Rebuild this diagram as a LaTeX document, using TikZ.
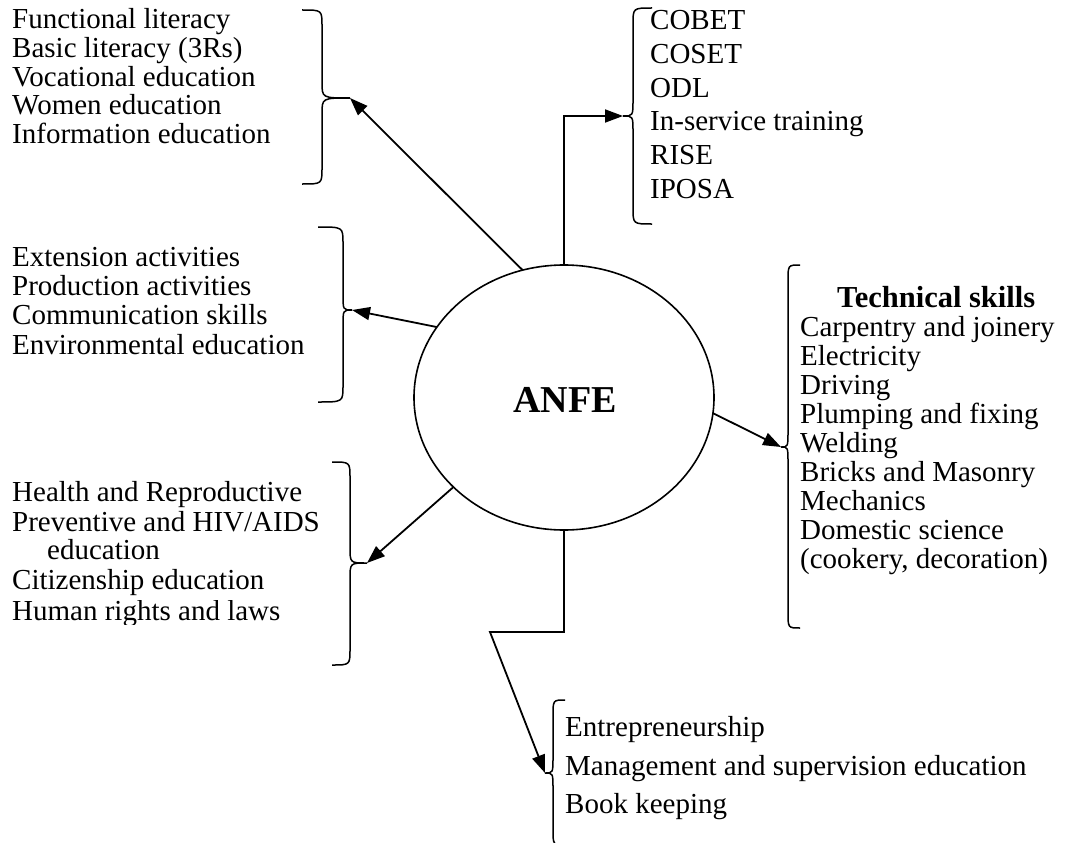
\documentclass[tikz,border=0pt]{standalone}
\usepackage{fontspec}
\setmainfont{Liberation Serif}
\usetikzlibrary{arrows.meta,shapes.geometric}
\newcommand\mybrace[7]{% x0 x1 x2 ytop ycusp ybot r
  \draw[bracepath] (#1,#4) .. controls (#2,#4) .. (#2,#4+#7) -- (#2,#5-#7)
    .. controls (#2,#5) .. (#3,#5) .. controls (#2,#5) .. (#2,#5+#7)
    -- (#2,#6-#7) .. controls (#2,#6) .. (#1,#6);}
\tikzset{
  bracepath/.style={line width=1.5pt},
  arr/.style={line width=1.8pt,-{Triangle[length=18pt,width=13pt]}},
  item/.style={anchor=base west,inner sep=0pt,font=\fontsize{29}{30}\selectfont},
  bolditem/.style={item,font=\fontsize{30.5}{30}\selectfont\bfseries},
}
\begin{document}
\begin{tikzpicture}[x=1pt,y=-1pt]
\useasboundingbox (0,0) rectangle (1066,843);
% centre
\node[ellipse,draw,line width=1.6pt,minimum width=300pt,minimum height=265pt,outer sep=0pt,inner sep=0pt] (anfe) at (564,397.5) {};
\node[inner sep=0pt,font=\fontsize{38}{38}\selectfont\bfseries] (anfelabel) at (565,400) {ANFE};

% top-left list
\node[item] (tl1) at (12,29) {Functional literacy};
\node[item] (tl2) at (12,57.5) {Basic literacy (3Rs)};
\node[item] (tl3) at (12,86) {Vocational education};
\node[item] (tl4) at (12,114.5) {Women education};
\node[item] (tl5) at (12,143) {Information education};
\mybrace{302}{322}{350}{10}{98}{184}{16}
\coordinate (ctl) at (350,98);

% middle-left list
\node[item] (ml1) at (12,266) {Extension activities};
\node[item] (ml2) at (12,295) {Production activities};
\node[item] (ml3) at (12,324.5) {Communication skills};
\node[item] (ml4) at (12,354) {Environmental education};
\mybrace{318}{343}{352}{227}{310}{402}{16}
\coordinate (cml) at (352,310);

% bottom-left list
\node[item] (bl1) at (12,501) {Health and Reproductive};
\node[item] (bl2) at (12,531) {Preventive and HIV/AIDS};
\node[item] (bl3) at (47,559.5) {education};
\node[item] (bl4) at (12,589) {Citizenship education};
\begin{scope}
\clip (0,600) rectangle (340,624);
\node[item] (bl5) at (12,620) {Human rights and laws};
\end{scope}
\mybrace{332}{350}{367}{462}{563}{665}{16}
\coordinate (cbl) at (367,563);

% top-right list
\node[item] (tr1) at (650,30) {COBET};
\node[item] (tr2) at (650,63.5) {COSET};
\node[item] (tr3) at (650,97) {ODL};
\node[item] (tr4) at (650,130.5) {In-service training};
\node[item] (tr5) at (650,164) {RISE};
\node[item] (tr6) at (650,198) {IPOSA};
\mybrace{652}{633}{623}{8}{116}{224}{16}
\coordinate (ctr) at (623,116);

% right list
\node[bolditem] (r0) at (837,307) {Technical skills};
\node[item] (r1) at (800,336) {Carpentry and joinery};
\node[item] (r2) at (800,365) {Electricity};
\node[item] (r3) at (800,394) {Driving};
\node[item] (r4) at (800,423) {Plumping and fixing};
\node[item] (r5) at (800,452) {Welding};
\node[item] (r6) at (800,481) {Bricks and Masonry};
\node[item] (r7) at (800,510) {Mechanics};
\node[item] (r8) at (800,539) {Domestic science};
\node[item] (r9) at (800,568) {(cookery, decoration)};
\mybrace{800}{788}{781}{265}{447}{628}{16}
\coordinate (cr) at (781,447);

% bottom list
\node[item] (b1) at (565,736) {Entrepreneurship};
\node[item] (b2) at (565,775) {Management and supervision education};
\node[item] (b3) at (565,813) {Book keeping};
\mybrace{565}{553}{545}{700}{773}{845}{16}
\coordinate (cb) at (545,773);

% connectors
\draw[arr] (anfe.108.8) -- (ctl);
\draw[arr] (anfe.151.7) -- (cml);
\draw[arr] (anfe.219.4) -- (cbl);
\draw[arr] (anfe.354.5) -- (cr);
\draw[arr] (anfe.north) |- (ctr);
\coordinate (bend) at (490,632);
\draw[arr] (anfe.south) |- (bend) -- (cb);
\end{tikzpicture}
\end{document}
